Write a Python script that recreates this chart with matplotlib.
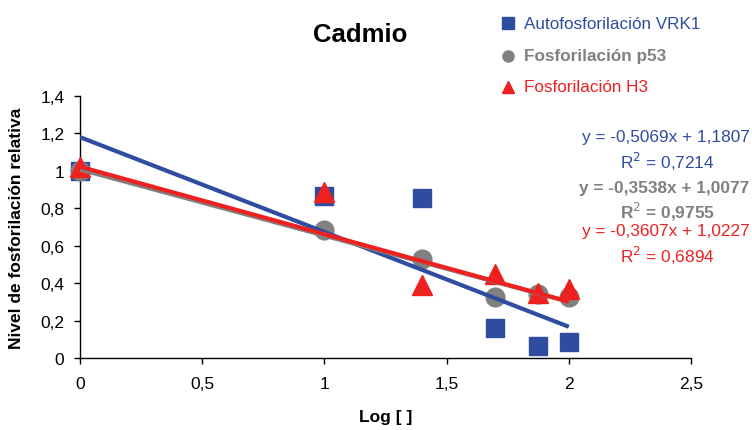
import matplotlib
matplotlib.use("Agg")
import matplotlib.pyplot as plt
import numpy as np
from matplotlib.ticker import FuncFormatter
from matplotlib.lines import Line2D

plt.rcParams['font.family'] = ['Liberation Sans', 'DejaVu Sans']

# Log of cadmium concentration
log_conc = [0.0, 1.0, 1.398, 1.699, 1.875, 2.0]

vrk1 = [1.00, 0.865, 0.853, 0.16, 0.065, 0.085]
p53 = [1.00, 0.685, 0.53, 0.325, 0.34, 0.325]
h3 = [1.02, 0.885, 0.39, 0.45, 0.35, 0.37]

series_names = ["Autofosforilación VRK1", "Fosforilación p53", "Fosforilación H3"]

# Linear trendline coefficients (slope, intercept, R²)
fit_vrk1 = (-0.5069, 1.1807, 0.7214)
fit_p53 = (-0.3538, 1.0077, 0.9755)
fit_h3 = (-0.3607, 1.0227, 0.6894)

x_ticks = [0, 0.5, 1, 1.5, 2, 2.5]
y_ticks = [0, 0.2, 0.4, 0.6, 0.8, 1.0, 1.2, 1.4]

blue = "#2E4DA0"
gray = "#808080"
red = "#EE2020"

fig = plt.figure(figsize=(7.52, 4.31), dpi=100)
ax = fig.add_axes([0.106, 0.167, 0.813, 0.608])

series = [
    (vrk1, fit_vrk1, blue, "s", 13, "normal"),
    (p53, fit_p53, gray, "o", 13.5, "bold"),
    (h3, fit_h3, red, "^", 14, "normal"),
]

xfit = np.array([log_conc[0], log_conc[-1]])
for vals, (m, b, r2), col, mk, ms, wt in series:
    ax.plot(log_conc, vals, linestyle="none", marker=mk, color=col,
            markersize=ms, clip_on=False, zorder=3)
for vals, (m, b, r2), col, mk, ms, wt in series:
    ax.plot(xfit, m * xfit + b, color=col, linewidth=3,
            solid_capstyle="butt", zorder=4)

ax.set_xlim(0, 2.5)
ax.set_ylim(0, 1.4)
ax.set_xticks(x_ticks)
ax.set_yticks(y_ticks)

def comma_fmt(v, pos):
    s = f"{v:.1f}".rstrip("0").rstrip(".")
    return s.replace(".", ",")

ax.xaxis.set_major_formatter(FuncFormatter(comma_fmt))
ax.yaxis.set_major_formatter(FuncFormatter(comma_fmt))
ax.tick_params(direction="out", length=4, width=1, labelsize=12.5, colors="black")
ax.tick_params(axis="x", pad=9)
ax.tick_params(axis="y", pad=7)
for side in ("top", "right"):
    ax.spines[side].set_visible(False)
for side in ("left", "bottom"):
    ax.spines[side].set_linewidth(1)

ax.set_xlabel("Log [ ]", fontsize=12.5, fontweight="bold", labelpad=13)
ax.set_ylabel("Nivel de fosforilación relativa", fontsize=12.5,
              fontweight="bold", labelpad=12)

fig.text(0.479, 0.918, "Cadmio", fontsize=18.5, fontweight="bold",
         ha="center", va="center")

# Legend
leg_y = [0.944, 0.868, 0.796]
for (vals, fit, col, mk, ms, wt), name, yy in zip(series, series_names, leg_y):
    fig.add_artist(Line2D([0.675], [yy], marker=mk, color=col,
                          markersize=8, linestyle="none",
                          transform=fig.transFigure))
    fig.text(0.697, yy, name, color=col, fontsize=12.3, fontweight=wt,
             ha="left", va="center")

# Trendline equations
eq_y = [(0.680, 0.624), (0.562, 0.508), (0.462, 0.406)]
for (vals, (m, b, r2), col, mk, ms, wt), (ye, yr) in zip(series, eq_y):
    eq = f"y = {m:.4f}x + {b:.4f}".replace(".", ",")
    fig.text(0.997, ye, eq, color=col, fontsize=12.4, fontweight=wt,
             ha="right", va="center")
    fig.text(0.887, yr, f"R$^2$ = {r2:.4f}".replace(".", ","), color=col,
             fontsize=12.4, fontweight=wt, ha="center", va="center")

fig.savefig("out.png", dpi=100)
